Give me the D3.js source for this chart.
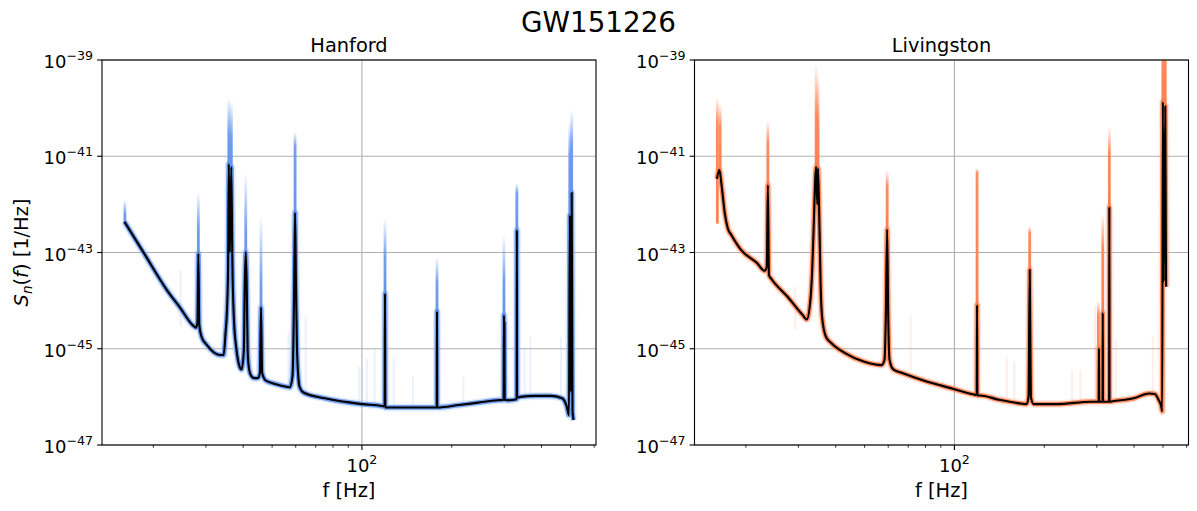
<!DOCTYPE html>
<html>
<head>
<meta charset="utf-8">
<script src="https://cdn.jsdelivr.net/npm/d3@7"></script>
<style>
body { margin: 0; background: #fff; }
text { font-family: "DejaVu Sans", sans-serif; fill: #000; }
</style>
</head>
<body>
<svg id="chart" width="1197" height="511"></svg>
<script>
var detectors = ['Hanford', 'Livingston'];
var colors = ['#6495ED', '#FF7F50'];
var yTickExps = [-39, -41, -43, -45, -47];
var xMajor = [100];

// median PSD, [f (Hz), log10 S_n]
var hanfordCurve = [
	[16.0,-42.36],[18.75,-43.05],[22.2,-43.78],[24.6,-44.15],[27.2,-44.52],[27.8,-44.56],[28.1,-44.45],
	[28.3,-43.02],[28.5,-44.5],[29.0,-44.75],[30.2,-44.92],[33.4,-45.13],[34.4,-45.13],[34.9,-44.68],
	[35.4,-43.99],[35.6,-43.3],[35.8,-41.16],[36.1,-43.0],[36.5,-41.22],[36.8,-43.2],[37.2,-44.33],
	[38.0,-45.03],[38.9,-45.37],[39.5,-45.43],[40.2,-45.03],[40.5,-43.64],[40.8,-42.99],[41.1,-43.64],
	[41.4,-45.03],[41.9,-45.44],[42.6,-45.57],[43.5,-45.61],[44.8,-45.61],[45.5,-45.51],[45.9,-44.14],
	[46.3,-45.5],[47.6,-45.66],[51.2,-45.73],[55.9,-45.79],[57.3,-45.80],[58.5,-45.58],[59.0,-44.68],
	[59.3,-43.64],[59.7,-42.17],[60.1,-43.64],[60.6,-45.03],[61.8,-45.79],[63.7,-45.91],[75.2,-46.03],
	[100,-46.15],[117.0,-46.19],[119.2,-46.2],[119.5,-43.85],[119.8,-46.22],[122.3,-46.22],[135.6,-46.22],
	[157.1,-46.22],[178.2,-46.22],[178.5,-44.22],[178.8,-46.22],[211.3,-46.17],[244.7,-46.12],[283.8,-46.07],
	[298.6,-46.06],[299.2,-44.30],[299.8,-45.6],[300.4,-44.45],[301.0,-46.06],[309.9,-46.07],[330.1,-46.05],
	[330.6,-42.53],[331.1,-46.02],[338.7,-46.0],[381,-45.98],[429,-45.98],[468.8,-46.03],[485.7,-46.20],
	[494.3,-46.38],[497.4,-42.22],[500.5,-45.9],[504.7,-41.76],[508,-46.3],[512,-46.48]
];
// spread of samples above line peaks: [f, peak, solid top, faded top]
var hanfordLines = [
	[16.05,-42.4,-42.2,-41.9],
	[28.3,-43.02,-42.47,-41.74],[35.8,-41.16,-40.52,-39.77],[36.5,-41.22,-40.6,-39.85],
	[40.8,-42.99,-42.53,-41.35],[45.9,-44.14,-43.61,-42.22],[59.7,-42.17,-40.80,-40.49],
	[119.5,-43.85,-43.1,-42.28],[178.5,-44.22,-43.63,-43.09],[299.2,-44.30,-43.57,-42.64],
	[330.6,-42.53,-41.77,-41.56],[497.4,-42.22,-41.0,-40.3],[504.7,-41.76,-40.77,-40.04]
];
// faint single-sample lines: [f, bottom, top]
var hanfordFaint = [
	[24.7,-44.54,-43.36],[56.7,-45.8,-44.67],[64.8,-45.93,-44.33],[98,-46.1,-45.37],[103.9,-46.15,-45.2],
	[110.3,-46.2,-45.0],[127.9,-46.2,-45.16],[148.3,-46.2,-45.58],[218.8,-46.17,-45.58],
	[351,-46.0,-44.97],[366.7,-46.0,-44.76],[464.5,-46.03,-44.76]
];

var livingstonCurve = [
	[16.0,-41.47],[16.3,-41.28],[16.6,-41.63],[17.0,-42.19],[17.4,-42.5],[17.9,-42.64],[19.3,-42.95],
	[21.8,-43.22],[23.1,-43.38],[23.5,-43.3],[23.7,-41.60],[23.9,-43.47],[24.3,-43.54],[27.6,-43.92],
	[31.0,-44.30],[32.0,-44.39],[32.9,-43.99],[33.4,-43.30],[33.7,-42.6],[34.4,-41.22],[34.7,-42.0],
	[34.9,-41.25],[35.3,-42.5],[35.6,-43.64],[36.0,-44.33],[37.1,-44.75],[38.8,-44.89],[43.0,-45.09],
	[49.9,-45.27],[57.0,-45.34],[58.3,-45.23],[58.9,-44.33],[59.5,-42.52],[60.0,-44.33],[60.6,-45.23],
	[62.4,-45.43],[67.2,-45.51],[77.9,-45.65],[100,-45.84],[116.3,-45.95],[118.8,-45.96],[119.1,-44.09],
	[119.4,-45.97],[121.6,-45.97],[141.1,-46.06],[163.6,-46.13],[174.6,-46.15],[177.2,-46.0],[178.8,-43.36],
	[180.4,-46.0],[184.2,-46.15],[220,-46.15],[287.4,-46.10],[304.5,-46.1],[305.1,-44.99],[305.7,-46.1],
	[313.6,-46.1],[314.2,-44.25],[314.8,-46.1],[326.7,-46.1],[330.0,-46.1],[330.5,-42.05],[331.0,-46.1],
	[338.6,-46.09],[398.7,-46.03],[449,-45.93],[469.6,-45.94],[483.3,-46.06],[493.5,-46.2],[497,-46.3],
	[499.6,-39.87],[503,-43.6],[509,-39.96],[512,-43.71]
];
var livingstonLines = [
	[16.05,-42.4,-40.31,-39.77],[16.4,-41.4,-40.4,-39.9],[23.7,-41.60,-40.73,-40.25],
	[34.4,-41.22,-40.18,-39.07],[34.9,-41.25,-40.3,-39.3],[59.5,-42.52,-41.63,-41.29],
	[119.1,-44.09,-41.35,-41.25],[178.8,-43.36,-42.6,-42.46],[303.5,-46.1,-44.3,-44.0],
	[314.2,-44.25,-42.91,-42.19],[330.5,-42.05,-40.94,-40.39],[499.6,-39.87,-38.9,-38.5],
	[509,-39.96,-38.9,-38.5]
];
var livingstonFaint = [
	[29.3,-44.61,-43.71],[71.3,-45.44,-44.33],[149.7,-46.06,-45.17],[158.8,-46.06,-45.27],
	[248,-46.1,-45.44],[264.6,-46.1,-45.44],[296,-46.1,-44.1],[347.3,-46.09,-44.82],[462.4,-45.93,-44.75]
];

var W = 494, H = 385, TOP = 60;
var lefts = [102, 694.5];

var svg = d3.select('#chart');
var defs = svg.append('defs');

svg.append('text')
	.attr('x', 598.5).attr('y', 32)
	.attr('text-anchor', 'middle')
	.attr('font-size', 27.8)
	.text('GW151226');

var panels = [
	{name: detectors[0], color: colors[0], curve: hanfordCurve, lines: hanfordLines, faint: hanfordFaint, left: lefts[0], ylabel: true},
	{name: detectors[1], color: colors[1], curve: livingstonCurve, lines: livingstonLines, faint: livingstonFaint, left: lefts[1], ylabel: false}
];

panels.forEach(function (p, i) { drawPanel(p, i); });

function drawPanel(p, i) {
	var ext = d3.extent(p.curve, function (d) { return d[0]; });
	var lo = Math.log10(ext[0]), hi = Math.log10(ext[1]), m = (hi - lo) * 0.05;
	var x = d3.scaleLog().domain([Math.pow(10, lo - m), Math.pow(10, hi + m)]).range([0, W]);
	var y = d3.scaleLog().domain([1e-47, 1e-39]).range([H, 0]);
	var ye = function (e) { return y(Math.pow(10, e)); };

	var g = svg.append('g').attr('transform', 'translate(' + p.left + ',' + TOP + ')');

	defs.append('clipPath').attr('id', 'clip' + i)
		.append('rect').attr('width', W).attr('height', H);

	// grid
	g.selectAll('.gx').data(xMajor).enter().append('line')
		.attr('x1', function (d) { return x(d); }).attr('x2', function (d) { return x(d); })
		.attr('y1', 0).attr('y2', H)
		.attr('stroke', '#b0b0b0').attr('stroke-width', 1.1);
	g.selectAll('.gy').data(yTickExps).enter().append('line')
		.attr('x1', 0).attr('x2', W)
		.attr('y1', function (d) { return ye(d); }).attr('y2', function (d) { return ye(d); })
		.attr('stroke', '#b0b0b0').attr('stroke-width', 1.1);

	var plot = g.append('g').attr('clip-path', 'url(#clip' + i + ')');

	plot.selectAll('.faint').data(p.faint).enter().append('rect')
		.attr('x', function (d) { return x(d[0]) - 1; })
		.attr('width', 2)
		.attr('y', function (d) { return ye(d[2]); })
		.attr('height', function (d) { return ye(d[1]) - ye(d[2]); })
		.attr('fill', p.color).attr('opacity', 0.13);

	var line = d3.line()
		.x(function (d) { return x(d[0]); })
		.y(function (d) { return ye(d[1]); })
		.curve(d3.curveMonotoneX);

	plot.append('path').attr('d', line(p.curve))
		.attr('fill', 'none').attr('stroke', p.color)
		.attr('stroke-width', 8).attr('stroke-opacity', 0.16)
		.attr('stroke-linejoin', 'round');
	plot.append('path').attr('d', line(p.curve))
		.attr('fill', 'none').attr('stroke', p.color)
		.attr('stroke-width', 4.8).attr('stroke-opacity', 0.9)
		.attr('stroke-linejoin', 'round');

	// sample spread above the spectral lines
	p.lines.forEach(function (d, j) {
		var id = 'fade' + i + '_' + j;
		var span = ye(d[1]) - ye(d[3]);
		var solid = (ye(d[1]) - ye(d[2])) / span;
		var grad = defs.append('linearGradient').attr('id', id)
			.attr('x1', 0).attr('y1', 1).attr('x2', 0).attr('y2', 0);
		grad.append('stop').attr('offset', 0).attr('stop-color', p.color).attr('stop-opacity', 1);
		grad.append('stop').attr('offset', solid).attr('stop-color', p.color).attr('stop-opacity', 0.9);
		grad.append('stop').attr('offset', 1).attr('stop-color', p.color).attr('stop-opacity', 0);
		plot.append('rect')
			.attr('x', x(d[0]) - 1.4).attr('width', 2.8)
			.attr('y', ye(d[3])).attr('height', span)
			.attr('fill', 'url(#' + id + ')');
	});

	plot.append('path').attr('d', line(p.curve))
		.attr('fill', 'none').attr('stroke', '#000')
		.attr('stroke-width', 2.1)
		.attr('stroke-linejoin', 'round');

	// x ticks
	var allTicks = x.ticks();
	var minor = allTicks.filter(function (t) { return xMajor.indexOf(t) < 0; });
	g.selectAll('.xmin').data(minor).enter().append('line')
		.attr('x1', function (d) { return x(d); }).attr('x2', function (d) { return x(d); })
		.attr('y1', H).attr('y2', H + 2.8)
		.attr('stroke', '#000').attr('stroke-width', 0.8);
	g.selectAll('.xmaj').data(xMajor).enter().append('line')
		.attr('x1', function (d) { return x(d); }).attr('x2', function (d) { return x(d); })
		.attr('y1', H).attr('y2', H + 4.9)
		.attr('stroke', '#000').attr('stroke-width', 1.1);
	xMajor.forEach(function (t) {
		var lab = g.append('text')
			.attr('x', x(t)).attr('y', H + 27)
			.attr('text-anchor', 'middle').attr('font-size', 18);
		lab.append('tspan').text('10');
		lab.append('tspan').attr('font-size', 12.6).attr('dy', -8).text(String(Math.round(Math.log10(t))));
	});

	// y ticks
	g.selectAll('.ymaj').data(yTickExps).enter().append('line')
		.attr('x1', -4.9).attr('x2', 0)
		.attr('y1', function (d) { return ye(d); }).attr('y2', function (d) { return ye(d); })
		.attr('stroke', '#000').attr('stroke-width', 1.1);
	yTickExps.forEach(function (e) {
		var lab = g.append('text')
			.attr('x', -9).attr('y', ye(e) + 8)
			.attr('text-anchor', 'end').attr('font-size', 18);
		lab.append('tspan').text('10');
		lab.append('tspan').attr('font-size', 12.6).attr('dy', -8).text('\u2212' + Math.abs(e));
	});

	g.append('rect').attr('width', W).attr('height', H)
		.attr('fill', 'none').attr('stroke', '#000').attr('stroke-width', 1.1);

	g.append('text')
		.attr('x', W / 2).attr('y', -8)
		.attr('text-anchor', 'middle').attr('font-size', 19.4)
		.text(p.name);

	g.append('text')
		.attr('x', W / 2).attr('y', H + 52)
		.attr('text-anchor', 'middle').attr('font-size', 19.4)
		.text('f [Hz]');

	if (p.ylabel) {
		var yl = g.append('text')
			.attr('transform', 'translate(-74,' + (H / 2) + ') rotate(-90)')
			.attr('text-anchor', 'middle').attr('font-size', 19.4);
		yl.append('tspan').attr('font-style', 'italic').text('S');
		yl.append('tspan').attr('font-style', 'italic').attr('font-size', 13.6).attr('dy', 4).text('n');
		yl.append('tspan').attr('dy', -4).text('(');
		yl.append('tspan').attr('font-style', 'italic').text('f');
		yl.append('tspan').text(') [1/Hz]');
	}
}
</script>
</body>
</html>
